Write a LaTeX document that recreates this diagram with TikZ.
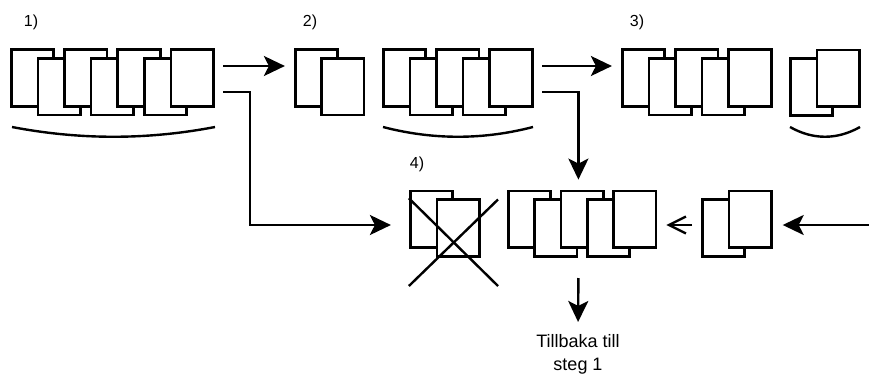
\documentclass[tikz,border=0pt]{standalone}
\usepackage{fontspec}
\setmainfont{Liberation Sans}
\usetikzlibrary{arrows.meta,positioning}

\begin{document}
\begin{tikzpicture}[%
        x=1pt, y=1pt,
        >={Stealth[length=21pt,width=20pt,inset=5pt]},
        on grid,
        card/.style={draw, fill=white, line width=2.7pt, minimum width=42.5pt, minimum height=56.5pt, inner sep=0pt},
        flow/.style={line width=2.4pt},
        bow/.style={line width=2.4pt},
        num/.style={font=\fontsize{16}{19}\selectfont, inner sep=0pt}
        ]
        \useasboundingbox (0,0) rectangle (869,-375);

        % step 1
        \node[card] (a1) at (32.5,-78) {};
        \node[card] (a2) [below right=8.7pt and 26.6pt of a1] {};
        \node[card] (a3) [above right=8.7pt and 26.6pt of a2] {};
        \node[card] (a4) [below right=8.7pt and 26.6pt of a3] {};
        \node[card] (a5) [above right=8.7pt and 26.6pt of a4] {};
        \node[card] (a6) [below right=8.7pt and 26.6pt of a5] {};
        \node[card] (a7) [above right=8.7pt and 26.6pt of a6] {};
        \draw[bow] (12,-127) .. controls (80,-140) and (147,-140) .. (215,-127);

        % step 2
        \node[card] (b1) at (316.5,-78) {};
        \node[card] (b2) [below right=8.7pt and 26.2pt of b1] {};
        \node[card] (c1) at (404.5,-78) {};
        \node[card] (c2) [below right=8.7pt and 26.6pt of c1] {};
        \node[card] (c3) [above right=8.7pt and 26.6pt of c2] {};
        \node[card] (c4) [below right=8.7pt and 26.6pt of c3] {};
        \node[card] (c5) [above right=8.7pt and 26.6pt of c4] {};
        \draw[bow] (383,-127) .. controls (433,-140) and (483,-140) .. (533,-127);

        % step 3
        \node[card] (d1) at (643.5,-78) {};
        \node[card] (d2) [below right=8.7pt and 26.6pt of d1] {};
        \node[card] (d3) [above right=8.7pt and 26.6pt of d2] {};
        \node[card] (d4) [below right=8.7pt and 26.6pt of d3] {};
        \node[card] (d5) [above right=8.7pt and 26.6pt of d4] {};
        \node[card] (e1) at (811.5,-87) {};
        \node[card] (e2) [above right=8.7pt and 26.6pt of e1] {};
        \draw[bow] (790,-127) .. controls (813,-140) and (837,-140) .. (860,-127);

        % step 4
        \node[card] (x1) at (431.5,-219.2) {};
        \node[card] (x2) [below right=8.7pt and 26.6pt of x1] {};
        \draw[line width=2.4pt] (x1.west |- x2.north) -- (498,-286);
        \draw[line width=2.4pt] (498,-199.5) -- (x1.west |- 0,-286);
        \node[card] (m1) at (529.5,-219.2) {};
        \node[card] (m2) [below right=8.7pt and 26.3pt of m1] {};
        \node[card] (m3) [above right=8.7pt and 26.3pt of m2] {};
        \node[card] (m4) [below right=8.7pt and 26.3pt of m3] {};
        \node[card] (m5) [above right=8.7pt and 26.3pt of m4] {};
        \node[card] (r1) at (723.5,-228) {};
        \node[card] (r2) [above right=8.7pt and 26.6pt of r1] {};

        % labels
        \node[num] (n1) at (31,-22) {1)};
        \node[num] (n2) at (310,-22) {2)};
        \node[num] (n3) at (637,-22) {3)};
        \node[num] (n4) at (417,-164) {4)};
        \node[font=\fontsize{18}{23}\selectfont, inner sep=0pt, anchor=north, align=center] (tb) at (578,-334) {Tillbaka till\\steg 1};

        % arrows
        \coordinate (o1) at (223,-66);
        \draw[flow,->,shorten >=9pt] (o1) -- (o1 -| b1.west);
        \coordinate (o2) at (223,-92);
        \coordinate (k1) at (250,-225);
        \draw[flow,->,shorten >=18pt] (o2) -| (k1) -- (k1 -| x1.west);
        \coordinate (o3) at (542,-66);
        \draw[flow,->,shorten >=9pt] (o3) -- (o3 -| d1.west);
        \coordinate (o4) at (542,-92);
        \draw[flow,->,shorten >=10pt] (o4) -| (m2.east |- m3.north);
        \coordinate (o5) at (869,-225);
        \draw[flow,->,shorten >=10pt] (o5) -- (o5 -| r2.east);
        \coordinate (o6) at (692,-225);
        \draw[line width=2.4pt,-{Straight Barb[length=17pt,width=17pt]},shorten >=9pt] (o6) -- (o6 -| m5.east);
        \coordinate (o7) at (m2.east |- 0,-278);
        \draw[flow,->,shorten >=12pt] (o7) -- (tb.north);

    \end{tikzpicture}
\end{document}
